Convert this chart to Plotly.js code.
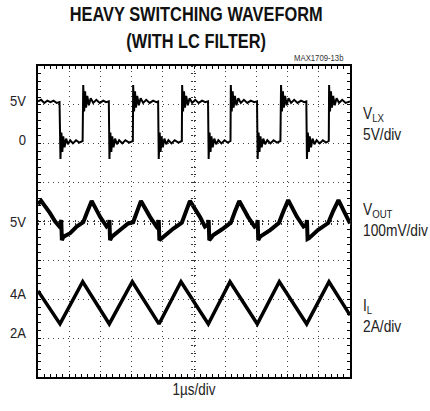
<!DOCTYPE html>
<html>
<head>
<meta charset="utf-8">
<script src="https://cdn.plot.ly/plotly-3.0.1.min.js"></script>
<style>html,body{margin:0;padding:0;background:#fff;}#chart{width:430px;height:411px;}</style>
</head>
<body>
<div id="chart"></div>
<script>
// ---- Data (time in µs, 1 µs/div) ----
// VLX switching node (V, 5V/div)
var vlxT = [0.00,0.10,0.20,0.30,0.40,0.50,0.60,0.69,
  0.72,0.75,0.78,0.81,0.85,0.90,0.96,1.03,1.12,1.22,1.32,1.43,
  1.45,1.48,1.51,1.54,1.58,1.63,1.69,1.77,1.87,1.98,2.09,2.18,2.27,
  2.29,2.32,2.35,2.38,2.42,2.47,2.53,2.60,2.70,2.80,2.92,3.04,
  3.05,3.08,3.11,3.14,3.18,3.23,3.29,3.37,3.47,3.58,3.69,3.79,3.85,
  3.87,3.90,3.93,3.96,4.00,4.05,4.11,4.18,4.28,4.38,4.50,4.61,
  4.62,4.65,4.68,4.71,4.75,4.80,4.86,4.94,5.04,5.15,5.26,5.36,5.45,
  5.47,5.50,5.53,5.56,5.60,5.65,5.71,5.78,5.88,5.98,6.08,6.17,
  6.18,6.21,6.24,6.27,6.31,6.36,6.42,6.50,6.60,6.71,6.82,6.93,7.02,
  7.04,7.07,7.10,7.13,7.17,7.22,7.28,7.35,7.45,7.55,7.66,7.77,
  7.79,7.82,7.85,7.88,7.92,7.97,8.03,8.11,8.21,8.32,8.43,8.53,8.60,
  8.62,8.65,8.68,8.71,8.75,8.80,8.86,8.93,9.03,9.13,9.23,9.32,
  9.33,9.36,9.39,9.42,9.46,9.51,9.57,9.65,9.75,9.86,10.0];
var vlxV = [4.9,5.1,4.7,5.0,4.8,5.0,4.7,4.8,
  -2.5,0.9,-1.6,0.4,-1.0,0.1,-0.6,-0.1,-0.5,-0.1,-0.4,-0.2,
  7.0,3.6,6.2,4.1,5.6,4.4,5.3,4.7,5.1,4.7,5.0,4.8,4.9,
  -2.5,0.9,-1.6,0.4,-1.0,0.1,-0.6,-0.1,-0.5,-0.1,-0.4,-0.2,
  7.0,3.6,6.2,4.1,5.6,4.4,5.3,4.7,5.1,4.7,5.0,4.8,4.9,
  -2.5,0.9,-1.6,0.4,-1.0,0.1,-0.6,-0.1,-0.5,-0.1,-0.4,-0.2,
  7.0,3.6,6.2,4.1,5.6,4.4,5.3,4.7,5.1,4.7,5.0,4.8,4.9,
  -2.5,0.9,-1.6,0.4,-1.0,0.1,-0.6,-0.1,-0.5,-0.1,-0.4,-0.2,
  7.0,3.6,6.2,4.1,5.6,4.4,5.3,4.7,5.1,4.7,5.0,4.8,4.9,
  -2.5,0.9,-1.6,0.4,-1.0,0.1,-0.6,-0.1,-0.5,-0.1,-0.4,-0.2,
  7.0,3.6,6.2,4.1,5.6,4.4,5.3,4.7,5.1,4.7,5.0,4.8,4.9,
  -2.5,0.9,-1.6,0.4,-1.0,0.1,-0.6,-0.1,-0.5,-0.1,-0.4,-0.2,
  7.0,3.6,6.2,4.1,5.6,4.4,5.3,4.7,5.1,4.7,4.9];

// VOUT (V, 100mV/div around 5V)
var voutT = [0.00,0.10,0.38,0.55,0.69,0.72,0.745,0.765,0.82,0.90,1.03,1.24,1.40,
  1.45,1.58,1.72,1.99,2.20,2.27,2.29,2.31,2.37,2.63,2.89,
  3.05,3.17,3.30,3.59,3.80,3.85,3.87,3.89,4.02,4.34,
  4.61,4.74,4.87,5.19,5.35,5.45,5.47,5.49,5.62,5.90,
  6.18,6.31,6.45,6.73,6.94,7.02,7.04,7.06,7.12,7.44,
  7.72,7.87,8.02,8.30,8.51,8.60,8.62,8.64,8.69,8.97,
  9.30,9.46,9.63,10.0];
var voutV = [5.045,5.053,5.022,5.000,4.987,4.992,5.004,4.952,4.961,4.964,4.970,4.987,4.997,
  4.998,5.025,5.053,5.012,4.987,4.992,5.004,4.952,4.961,4.978,4.995,
  4.998,5.025,5.053,5.012,4.987,4.992,5.004,4.952,4.961,4.982,
  4.997,5.025,5.053,5.012,4.987,4.992,5.004,4.952,4.965,4.980,
  4.997,5.025,5.053,5.012,4.987,4.992,5.004,4.952,4.961,4.978,
  4.996,5.027,5.055,5.012,4.987,4.992,5.004,4.955,4.957,4.978,
  4.996,5.027,5.055,4.995];

// IL inductor current (A, 2A/div)
var ilT = [0, 0.705, 1.433, 2.285, 3.022, 3.878, 4.583, 5.458, 6.154, 7.029, 7.734, 8.612, 9.327, 10];
var ilA = [4.15, 2.45, 4.62, 2.45, 4.62, 2.45, 4.62, 2.45, 4.62, 2.45, 4.62, 2.45, 4.62, 2.90];

// Tick labels
var vlxTicks = [5, 0], vlxLabels = ['5V', '0'];
var voutTicks = [5], voutLabels = ['5V'];
var ilTicks = [4, 2], ilLabels = ['4A', '2A'];

var FONT = '"Liberation Sans", Arial, sans-serif';
var TXT = '#222';

var traces = [
  {x: [], y: [], xaxis: 'x', yaxis: 'y', mode: 'lines', hoverinfo: 'skip'},
  {x: vlxT, y: vlxV, xaxis: 'x5', yaxis: 'y2', mode: 'lines', line: {color: '#000', width: 2}, hoverinfo: 'skip'},
  {x: voutT, y: voutV, xaxis: 'x6', yaxis: 'y3', mode: 'lines', line: {color: '#000', width: 4}, hoverinfo: 'skip'},
  {x: ilT, y: ilA, xaxis: 'x7', yaxis: 'y4', mode: 'lines', line: {color: '#000', width: 3.5}, hoverinfo: 'skip'},
  {x: [], y: [], xaxis: 'x3', yaxis: 'y6', mode: 'lines', hoverinfo: 'skip'},
  {x: [], y: [], xaxis: 'x8', yaxis: 'y7', mode: 'lines', hoverinfo: 'skip'}
];

var gridAxis = {
  showgrid: true, gridcolor: '#444', gridwidth: 1, griddash: '1px,4px',
  showline: true, linecolor: '#000', linewidth: 2, mirror: 'allticks',
  ticks: 'inside', ticklen: 3, tickcolor: '#000', tickwidth: 1,
  minor: {dtick: 0.2, ticks: 'inside', ticklen: 3, tickcolor: '#000', tickwidth: 1, showgrid: false},
  showticklabels: false, zeroline: false, fixedrange: true
};

function centerAxis(extra) {
  return Object.assign({
    showgrid: false, showline: false, zeroline: false,
    showticklabels: false, ticks: 'outside', ticklen: 2, tickcolor: '#333', tickwidth: 1, dtick: 0.2, tick0: 0,
    minor: {dtick: 0.2, ticks: 'inside', ticklen: 2, tickcolor: '#333', tickwidth: 1, showgrid: false},
    fixedrange: true
  }, extra);
}

function hiddenX(anchor, dom) {
  return {domain: dom || [0, 1], anchor: anchor, range: [0, 10], visible: false, fixedrange: true};
}

function labelAxis(dom, anchor, range, vals, txt) {
  return {
    domain: dom, anchor: anchor, side: 'left', range: range,
    tickmode: 'array', tickvals: vals, ticktext: txt,
    showgrid: false, zeroline: false, showline: false, ticks: '',
    ticklabelstandoff: 11,
    tickfont: {family: FONT, size: 15, color: TXT}, fixedrange: true
  };
}

var layout = {
  width: 430, height: 411,
  margin: {l: 38, r: 80, t: 66, b: 34, pad: 0},
  paper_bgcolor: '#fff', plot_bgcolor: 'rgba(0,0,0,0)',
  showlegend: false,
  xaxis: Object.assign({}, gridAxis, {
    domain: [0, 1], anchor: 'y', range: [0, 10], dtick: 1, tick0: 0,
    title: {text: '1µs/div', font: {family: FONT, size: 16, color: TXT}, standoff: 6}
  }),
  yaxis: Object.assign({}, gridAxis, {domain: [0, 1], anchor: 'x', range: [0, 8], dtick: 1, tick0: 0}),
  // signal bands: divisions 5-8 (VLX), 3-5 (VOUT), 0-3 (IL) of the 8-division screen
  xaxis5: hiddenX('y2'), xaxis6: hiddenX('y3'), xaxis7: hiddenX('y4'),
  yaxis2: labelAxis([0.625, 1], 'x5', [-5.55, 9.45], vlxTicks, vlxLabels),
  yaxis3: labelAxis([0.375, 0.625], 'x6', [4.9, 5.1], voutTicks, voutLabels),
  yaxis4: labelAxis([0, 0.375], 'x7', [-0.28, 5.72], ilTicks, ilLabels),
  // centre graticule: horizontal line ticks
  xaxis3: centerAxis({domain: [0, 1], anchor: 'y6', range: [0, 10]}),
  yaxis6: {domain: [0.5, 0.502], anchor: 'x3', visible: false, range: [0, 1], fixedrange: true},
  // centre graticule: vertical line ticks (left edge of the right half)
  xaxis8: {domain: [0.5, 1], anchor: 'y7', visible: false, range: [0, 1], fixedrange: true},
  yaxis7: centerAxis({domain: [0, 1], anchor: 'x8', range: [0, 8], side: 'left'}),
  annotations: [
    {text: '<b>HEAVY SWITCHING WAVEFORM<br>(WITH LC FILTER)</b>', xref: 'paper', yref: 'paper',
     x: (196 - 38) / 312, xanchor: 'center', y: 1 + 12 / 311, yanchor: 'bottom', showarrow: false,
     font: {family: FONT, size: 21, color: '#111'}},
    {text: 'MAX1709-13b', xref: 'paper', yref: 'paper', x: 1, y: 1, xanchor: 'right', yanchor: 'bottom',
     yshift: 1, showarrow: false, font: {family: FONT, size: 9, color: '#333'}},
    {text: 'V<sub>LX</sub><br>5V/div', xref: 'paper', yref: 'paper', x: 1, xanchor: 'left', xshift: 11,
     y: (377 - 124) / 311, yanchor: 'middle', align: 'left', showarrow: false,
     font: {family: FONT, size: 16, color: TXT}},
    {text: 'V<sub>OUT</sub><br>100mV/div', xref: 'paper', yref: 'paper', x: 1, xanchor: 'left', xshift: 11,
     y: (377 - 220) / 311, yanchor: 'middle', align: 'left', showarrow: false,
     font: {family: FONT, size: 16, color: TXT}},
    {text: 'I<sub>L</sub><br>2A/div', xref: 'paper', yref: 'paper', x: 1, xanchor: 'left', xshift: 11,
     y: (377 - 316) / 311, yanchor: 'middle', align: 'left', showarrow: false,
     font: {family: FONT, size: 16, color: TXT}}
  ]
};

// narrow the lettering (the original uses a condensed face)
function squeeze(el, s) {
  var bb = el.getBBox();
  var anchor = el.getAttribute('text-anchor') || getComputedStyle(el).textAnchor || 'start';
  var ax = anchor === 'end' ? bb.x + bb.width : (anchor === 'middle' ? bb.x + bb.width / 2 : bb.x);
  var old = el.getAttribute('transform') || '';
  el.setAttribute('transform', old + ' translate(' + ax + ',0) scale(' + s + ',1) translate(' + (-ax) + ',0)');
}

Plotly.newPlot('chart', traces, layout, {staticPlot: true, displayModeBar: false}).then(function (gd) {
  var anns = gd.querySelectorAll('.annotation-text');
  anns.forEach(function (t, i) { squeeze(t, i === 0 ? 0.78 : 0.86); });
  gd.querySelectorAll('g.ytick text, g.y2tick text, g.y3tick text, g.y4tick text').forEach(function (t) { squeeze(t, 0.87); });
  gd.querySelectorAll('.g-xtitle text').forEach(function (t) { squeeze(t, 0.84); });
});
</script>
</body>
</html>
